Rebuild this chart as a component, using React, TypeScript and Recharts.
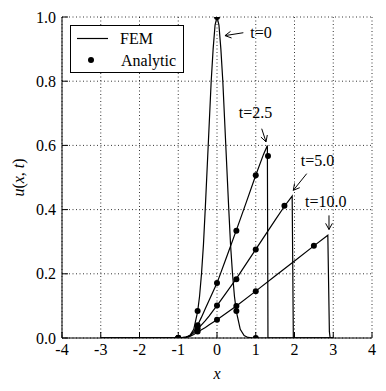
import React from 'react';
import {
  ComposedChart,
  Line,
  Scatter,
  XAxis,
  YAxis,
  CartesianGrid,
  ReferenceLine,
  ReferenceDot,
  Legend,
  Label,
} from 'recharts';

// ---------- data ----------
const xTicks = [-4, -3, -2, -1, 0, 1, 2, 3, 4];
const yTicks = [0, 0.2, 0.4, 0.6, 0.8, 1.0];

// FEM solution, t = 0
const femX0 = [-3, -1, -0.9, -0.8, -0.7, -0.6, -0.5, -0.45, -0.4, -0.35, -0.3, -0.25, -0.2, -0.15, -0.1, -0.05, 0, 0.05, 0.1, 0.15, 0.2, 0.25, 0.3, 0.35, 0.4, 0.45, 0.5, 0.6, 0.7, 0.8, 0.9, 1, 3];
const femY0 = [0, 0, 0.0003, 0.0017, 0.0074, 0.027, 0.082, 0.13, 0.2, 0.29, 0.41, 0.54, 0.67, 0.8, 0.9, 0.975, 1.0, 0.975, 0.9, 0.8, 0.67, 0.54, 0.41, 0.29, 0.2, 0.13, 0.082, 0.027, 0.0074, 0.0017, 0.0003, 0, 0];

// FEM solution, t = 2.5
const femX25 = [-3, -1, -0.9, -0.8, -0.7, -0.6, -0.5, -0.4, -0.3, -0.2, -0.1, 0, 0.25, 0.5, 0.75, 1.0, 1.2, 1.3, 1.315, 3];
const femY25 = [0, 0, 0.001, 0.003, 0.008, 0.02, 0.04, 0.065, 0.092, 0.118, 0.145, 0.171, 0.253, 0.336, 0.421, 0.507, 0.572, 0.6, 0, 0];

// FEM solution, t = 5.0
const femX5 = [-3, -1, -0.9, -0.8, -0.7, -0.6, -0.5, -0.4, -0.3, -0.2, -0.1, 0, 0.5, 1.0, 1.5, 1.75, 1.94, 1.97, 3];
const femY5 = [0, 0, 0.001, 0.003, 0.007, 0.016, 0.028, 0.041, 0.054, 0.069, 0.085, 0.101, 0.185, 0.276, 0.367, 0.412, 0.442, 0, 0];

// FEM solution, t = 10.0
const femX10 = [-3, -1, -0.9, -0.8, -0.7, -0.6, -0.5, -0.4, -0.3, -0.2, -0.1, 0, 0.5, 1.0, 1.5, 2.0, 2.5, 2.86, 2.9, 2.92, 3];
const femY10 = [0, 0, 0.001, 0.002, 0.005, 0.011, 0.019, 0.026, 0.033, 0.041, 0.049, 0.057, 0.1, 0.146, 0.193, 0.24, 0.287, 0.32, 0.02, 0, 0];

// Analytic points
const anaX0 = [-1, -0.5, 0, 0.5, 1];
const anaY0 = [0, 0.084, 1.0, 0.084, 0];
const anaX25 = [-1, -0.5, 0, 0.5, 1, 1.316];
const anaY25 = [0, 0.04, 0.171, 0.334, 0.507, 0.567];
const anaX5 = [-1, -0.5, 0, 0.5, 1, 1.74];
const anaY5 = [0, 0.03, 0.101, 0.183, 0.276, 0.412];
const anaX10 = [-1, -0.5, 0, 0.5, 1, 2.5];
const anaY10 = [0, 0.02, 0.057, 0.0997, 0.146, 0.287];

// Annotations
const annLabels = ['t=0', 't=2.5', 't=5.0', 't=10.0'];
const annTextX = [1.135, 0.994, 2.594, 2.808];
const annTextY = [0.951, 0.702, 0.553, 0.426];
const annFromX = [0.68, 1.154, 2.315, 2.89];
const annFromY = [0.951, 0.652, 0.512, 0.382];
const annToX = [0.206, 1.265, 1.969, 2.89];
const annToY = [0.942, 0.611, 0.46, 0.338];

const zip = (xs: number[], ys: number[]) => xs.map((x, i) => ({ x, y: ys[i] }));

const femSeries = [zip(femX0, femY0), zip(femX25, femY25), zip(femX5, femY5), zip(femX10, femY10)];
const anaSeries = [zip(anaX0, anaY0), zip(anaX25, anaY25), zip(anaX5, anaY5), zip(anaX10, anaY10)];

const FONT = 'Liberation Serif';
const FS = 16;

const ArrowShape = (props: any) => {
  const { x1, y1, x2, y2 } = props;
  const ang = Math.atan2(y2 - y1, x2 - x1);
  const L = 7;
  const W = 0.5;
  const ax = x2 - L * Math.cos(ang - W);
  const ay = y2 - L * Math.sin(ang - W);
  const bx = x2 - L * Math.cos(ang + W);
  const by = y2 - L * Math.sin(ang + W);
  return (
    <g>
      <line x1={x1} y1={y1} x2={x2} y2={y2} stroke="black" strokeWidth={1} />
      <polyline points={`${ax},${ay} ${x2},${y2} ${bx},${by}`} fill="none" stroke="black" strokeWidth={1} />
    </g>
  );
};

const makeTextShape = (label: string) => (props: any) => (
  <text x={props.cx} y={props.cy} dy="0.35em" textAnchor="middle" style={{ fontFamily: FONT }} fontSize={FS} fill="black">
    {label}
  </text>
);

const Dot = (props: any) => <circle cx={props.cx} cy={props.cy} r={3} fill="black" />;

const LegendBox = () => (
  <div style={{ width: 112, height: 46, border: '1px solid black', background: 'white', position: 'relative' }}>
    <svg width={112} height={46} style={{ position: 'absolute', left: 0, top: 0 }}>
      <line x1={6} y1={12.5} x2={37} y2={12.5} stroke="black" strokeWidth={1.2} />
      <circle cx={20} cy={34} r={3} fill="black" />
      <text x={49} y={12.5} dy="0.35em" style={{ fontFamily: FONT }} fontSize={FS} fill="black">FEM</text>
      <text x={50} y={34} dy="0.35em" style={{ fontFamily: FONT }} fontSize={FS} fill="black">Analytic</text>
    </svg>
  </div>
);

const YLabel = (props: any) => {
  const vb = props.viewBox || { x: 0, y: 0, width: 0, height: 0 };
  const cx = vb.x + 10;
  const cy = vb.y + vb.height / 2;
  return (
    <text x={cx} y={cy} dy="0.35em" textAnchor="middle" transform={`rotate(-90 ${cx} ${cy})`} style={{ fontFamily: FONT }} fontSize={FS} fill="black">
      <tspan fontStyle="italic">u</tspan>(<tspan fontStyle="italic">x</tspan>, <tspan fontStyle="italic">t</tspan>)
    </text>
  );
};

const XLabel = (props: any) => {
  const vb = props.viewBox || { x: 0, y: 0, width: 0, height: 0 };
  const cx = vb.x + vb.width / 2;
  const cy = vb.y + 35;
  return (
    <text x={cx} y={cy} dy="0.35em" textAnchor="middle" style={{ fontFamily: FONT }} fontSize={FS} fontStyle="italic" fill="black">
      x
    </text>
  );
};

export default function App() {
  const tickStyle = { fontSize: FS, fill: 'black', style: { fontFamily: FONT } };
  return (
    <div style={{ fontFamily: FONT }}>
      <ComposedChart width={378} height={383} margin={{ top: 9, right: 14, left: 0, bottom: 0 }} style={{ fontFamily: FONT }}>
        <CartesianGrid stroke="#000" strokeWidth={0.8} strokeDasharray="1 2.5" />
        <XAxis
          dataKey="x"
          type="number"
          domain={[-4, 4]}
          ticks={xTicks}
          interval={0}
          allowDataOverflow
          height={53}
          tickSize={-6}
          tickMargin={12}
          tick={tickStyle}
          axisLine={{ stroke: 'black' }}
          tickLine={{ stroke: 'black' }}
        >
          <Label content={XLabel} />
        </XAxis>
        <XAxis
          xAxisId="top"
          orientation="top"
          dataKey="x"
          type="number"
          domain={[-4, 4]}
          ticks={xTicks}
          interval={0}
          allowDataOverflow
          height={0}
          tickSize={-6}
          tickFormatter={() => ''}
          axisLine={{ stroke: 'black' }}
          tickLine={{ stroke: 'black' }}
        />
        <YAxis
          type="number"
          domain={[0, 1]}
          ticks={yTicks}
          interval={0}
          allowDataOverflow
          width={54}
          tickSize={-6}
          tickMargin={12}
          tick={tickStyle}
          tickFormatter={(v: number) => v.toFixed(1)}
          axisLine={{ stroke: 'black' }}
          tickLine={{ stroke: 'black' }}
        >
          <Label content={YLabel} />
        </YAxis>
        <YAxis
          yAxisId="right"
          orientation="right"
          type="number"
          domain={[0, 1]}
          ticks={yTicks}
          interval={0}
          allowDataOverflow
          width={0}
          tickSize={-6}
          tickFormatter={() => ''}
          axisLine={{ stroke: 'black' }}
          tickLine={{ stroke: 'black' }}
        />
        {femSeries.map((d, i) => (
          <Line
            key={`fem${i}`}
            data={d}
            dataKey="y"
            type="linear"
            stroke="black"
            strokeWidth={1.2}
            dot={false}
            activeDot={false}
            isAnimationActive={false}
          />
        ))}
        {anaSeries.map((d, i) => (
          <Scatter key={`ana${i}`} data={d} dataKey="y" fill="black" shape={Dot} isAnimationActive={false} />
        ))}
        {annLabels.map((lab, i) => (
          <ReferenceLine
            key={`arr${i}`}
            segment={[
              { x: annFromX[i], y: annFromY[i] },
              { x: annToX[i], y: annToY[i] },
            ]}
            shape={ArrowShape}
            ifOverflow="visible"
          />
        ))}
        {annLabels.map((lab, i) => (
          <ReferenceDot key={`lab${i}`} x={annTextX[i]} y={annTextY[i]} shape={makeTextShape(lab)} ifOverflow="visible" />
        ))}
        <Legend
          layout="vertical"
          align="center"
          verticalAlign="middle"
          content={LegendBox}
          wrapperStyle={{ position: 'absolute', left: 62, top: 17, width: 'auto' }}
        />
      </ComposedChart>
    </div>
  );
}
